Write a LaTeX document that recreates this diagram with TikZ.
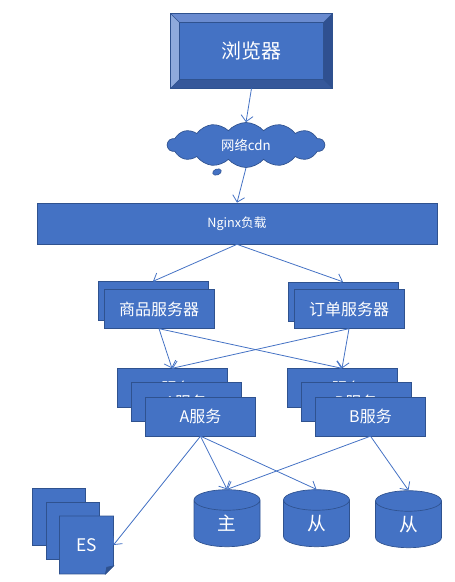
\documentclass[tikz,border=0pt]{standalone}
\usepackage{fontspec}
\setmainfont{Noto Sans CJK SC}
\usetikzlibrary{arrows.meta}
\usetikzlibrary{shapes.geometric}
\usetikzlibrary{shapes.symbols}

\definecolor{boxblue}{HTML}{4472C4}
\definecolor{edgeblue}{HTML}{2F528F}
\definecolor{bevelleft}{HTML}{8FAADC}
\definecolor{beveltop}{HTML}{6A8BD0}
\definecolor{bevelright}{HTML}{2F5090}
\definecolor{bevelbottom}{HTML}{36589A}

\tikzset{
	box/.style={draw=edgeblue, fill=boxblue, text=white, inner sep=0pt, line width=0.5pt},
	srvbox/.style={box, minimum width=82.5pt, minimum height=29pt, font=\fontsize{12}{12}\selectfont},
	docbox/.style={box, minimum width=40pt, minimum height=43pt},
	dbbox/.style={box, cylinder, shape border rotate=90, aspect=1.1, minimum width=49.5pt, minimum height=42.75pt, font=\fontsize{14}{14}\selectfont},
	link/.style={draw=boxblue, line width=0.6pt, -{Straight Barb[length=1.6mm]}}
}

\begin{document}
\begin{tikzpicture}[x=0.75pt, y=-0.75pt]
	\useasboundingbox (0,0) rectangle (454,582);
	%Browser
	\node [box, minimum width=120.75pt, minimum height=55.5pt] (browser) at (251.5,51) {};
	\coordinate (bnw) at ([shift={(6.5pt,-6.5pt)}]browser.north west);
	\coordinate (bne) at ([shift={(-6.5pt,-6.5pt)}]browser.north east);
	\coordinate (bsw) at ([shift={(6.5pt,6.5pt)}]browser.south west);
	\coordinate (bse) at ([shift={(-6.5pt,6.5pt)}]browser.south east);
	\fill [beveltop] (browser.north west) to (browser.north east) to (bne) to (bnw) to cycle;
	\fill [bevelleft] (browser.north west) to (bnw) to (bsw) to (browser.south west) to cycle;
	\fill [bevelright] (browser.north east) to (bne) to (bse) to (browser.south east) to cycle;
	\fill [bevelbottom] (browser.south west) to (bsw) to (bse) to (browser.south east) to cycle;
	\draw [edgeblue, line width=0.5pt] (browser.north west) rectangle (browser.south east);
	\draw [edgeblue, line width=0.4pt] (bnw) rectangle (bse);
	\draw [edgeblue, line width=0.4pt] (browser.north west) to (bnw) (browser.north east) to (bne) (browser.south west) to (bsw) (browser.south east) to (bse);
	\node [text=white, font=\fontsize{15}{15}\selectfont] at (browser.center) {浏览器};
	%CDN
	\node [box, cloud, cloud puffs=14, cloud puff arc=100, aspect=3.5, minimum width=117.75pt, minimum height=33.75pt, font=\fontsize{10}{10}\selectfont] (cdn) at (246,145) {网络cdn};
	\draw [fill=boxblue, draw=edgeblue, rotate around={20:(217,172)}] (217,172) ellipse [x radius=4.5, y radius=3];
	%Nginx
	\node [box, minimum width=300pt, minimum height=30.75pt, font=\fontsize{9.5}{9.5}\selectfont] (nginx) at (237,223.5) {Nginx负载};
	%Servers
	\node [srvbox] (goodsback) at (153,301) {};
	\node [srvbox] (goods) at (159,309) {商品服务器};
	\node [srvbox] (orderback) at (343,301.5) {};
	\node [srvbox] (order) at (349,309) {订单服务器};
	%Services
	\node [srvbox] (aback) at (172,388) {A服务};
	\node [srvbox] (amid) at (186,402) {A服务};
	\node [srvbox] (asrv) at (200.5,416.5) {A服务};
	\node [srvbox] (bback) at (342,388) {B服务};
	\node [srvbox] (bmid) at (356,402) {B服务};
	\node [srvbox] (bsrv) at (370.5,416.5) {B服务};
	%ES
	\node [docbox] (esback) at (58.5,516.5) {};
	\node [docbox] (esmid) at (72.5,531) {};
	\node [minimum width=40pt, minimum height=43pt, inner sep=0pt] (es) at (86.5,545) {};
	\draw [box] (es.north west) to (es.north east) to ([yshift=6pt]es.south east) to ([xshift=-6pt]es.south east) to (es.south west) to cycle;
	\draw [fill=edgeblue, draw=edgeblue, line width=0.5pt] ([yshift=6pt]es.south east) to ([shift={(-5pt,5pt)}]es.south east) to ([xshift=-6pt]es.south east) to cycle;
	\node [text=white, font=\fontsize{13}{13}\selectfont] at (es.center) {ES};
	%Databases
	\node [dbbox] (master) at (227,523.5) {主};
	\node [dbbox] (slaveone) at (316.5,523.5) {从};
	\node [dbbox] (slavetwo) at (408.5,524.5) {从};
	%Arrows
	\draw [link] (browser.south) to (cdn.north);
	\draw [link] (cdn.south) to (nginx.north);
	\draw [link] (nginx.south) to (goodsback.north);
	\draw [link] (nginx.south) to (orderback.north);
	\draw [link] (goods.south) to (aback.north);
	\draw [link] (goods.south) to (bback.north);
	\draw [link] (order.south) to (aback.north);
	\draw [link] (order.south) to (bback.north);
	\draw [link] (asrv.south) to (es.east);
	\draw [link] (asrv.south) to (master.north);
	\draw [link] (asrv.south) to (slaveone.north);
	\draw [link] (bsrv.south) to (master.north);
	\draw [link] (bsrv.south) to (slavetwo.north);
\end{tikzpicture}
\end{document}
